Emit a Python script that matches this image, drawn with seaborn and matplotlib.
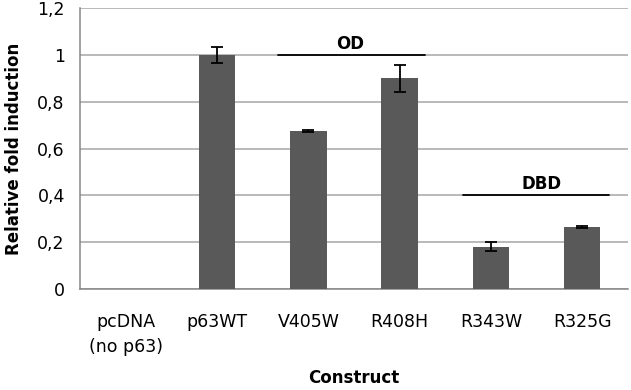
import pandas as pd
import numpy as np
import matplotlib.pyplot as plt
import seaborn as sns
from matplotlib.ticker import FuncFormatter, FixedLocator

# values
constructs = ['pcDNA\n(no p63)', 'p63WT', 'V405W', 'R408H', 'R343W', 'R325G']
fold = [0.0, 1.0, 0.675, 0.90, 0.181, 0.266]
err = [0.0, 0.036, 0.003, 0.057, 0.019, 0.005]

# domain groupings (label, x start, x end, line height, label x)
groups = [('OD', 1.67, 3.28, 1.0, 2.46), ('DBD', 3.69, 5.29, 0.4, 4.56)]

df = pd.DataFrame({'Construct': constructs, 'Fold': fold})

sns.set_style('white')
plt.rcParams['font.family'] = ['DejaVu Sans']
plt.rcParams['text.color'] = 'black'
plt.rcParams['axes.labelcolor'] = 'black'
plt.rcParams['xtick.color'] = 'black'
plt.rcParams['ytick.color'] = 'black'

fig = plt.figure(figsize=(6.31, 3.9), dpi=100)
ax = fig.add_axes([0.127, 0.259, 0.868, 0.72])

sns.barplot(data=df, x='Construct', y='Fold', color='#595959',
            saturation=1, width=0.4, linewidth=0, ax=ax, zorder=3)
pos = np.arange(len(constructs))
ax.errorbar(pos[1:], fold[1:], yerr=err[1:], fmt='none', ecolor='black',
            elinewidth=1.3, capsize=4, capthick=1.3, zorder=4)

for label, x0, x1, h, tx in groups:
    ax.plot([x0, x1], [h, h], color='black', lw=1.3, zorder=5)
    ax.text(tx, h + 0.01, label, ha='center', va='bottom',
            fontsize=12, fontweight='bold')

ax.set_ylim(0, 1.2)
ax.set_xlim(-0.5, len(constructs) - 0.5)
ax.set_yticks(np.arange(0, 1.21, 0.2))
ax.yaxis.set_major_formatter(FuncFormatter(lambda v, p: ('%g' % round(v, 1)).replace('.', ',')))
ax.yaxis.grid(True, color='#a6a6a6', lw=1.1, zorder=0)
ax.set_axisbelow(True)

ax.xaxis.set_minor_locator(FixedLocator(np.arange(-0.5, len(constructs), 1.0)))
ax.tick_params(axis='x', which='major', length=0, pad=17, labelsize=12.5)
ax.tick_params(axis='x', which='minor', length=6, color='#868686', width=1.1, direction='out')
ax.tick_params(axis='y', length=6, color='#868686', width=1.1, direction='out', labelsize=12.5, pad=5)
for t in ax.get_xticklabels():
    t.set_linespacing(1.5)

for s in ['top', 'right']:
    ax.spines[s].set_visible(False)
for s in ['left', 'bottom']:
    ax.spines[s].set_color('#868686')
    ax.spines[s].set_linewidth(1.1)

ax.set_xlabel('Construct', fontsize=12, fontweight='bold', labelpad=10)
ax.set_ylabel('Relative fold induction', fontsize=12, fontweight='bold', labelpad=10)

fig.savefig('out.png', dpi=100)
